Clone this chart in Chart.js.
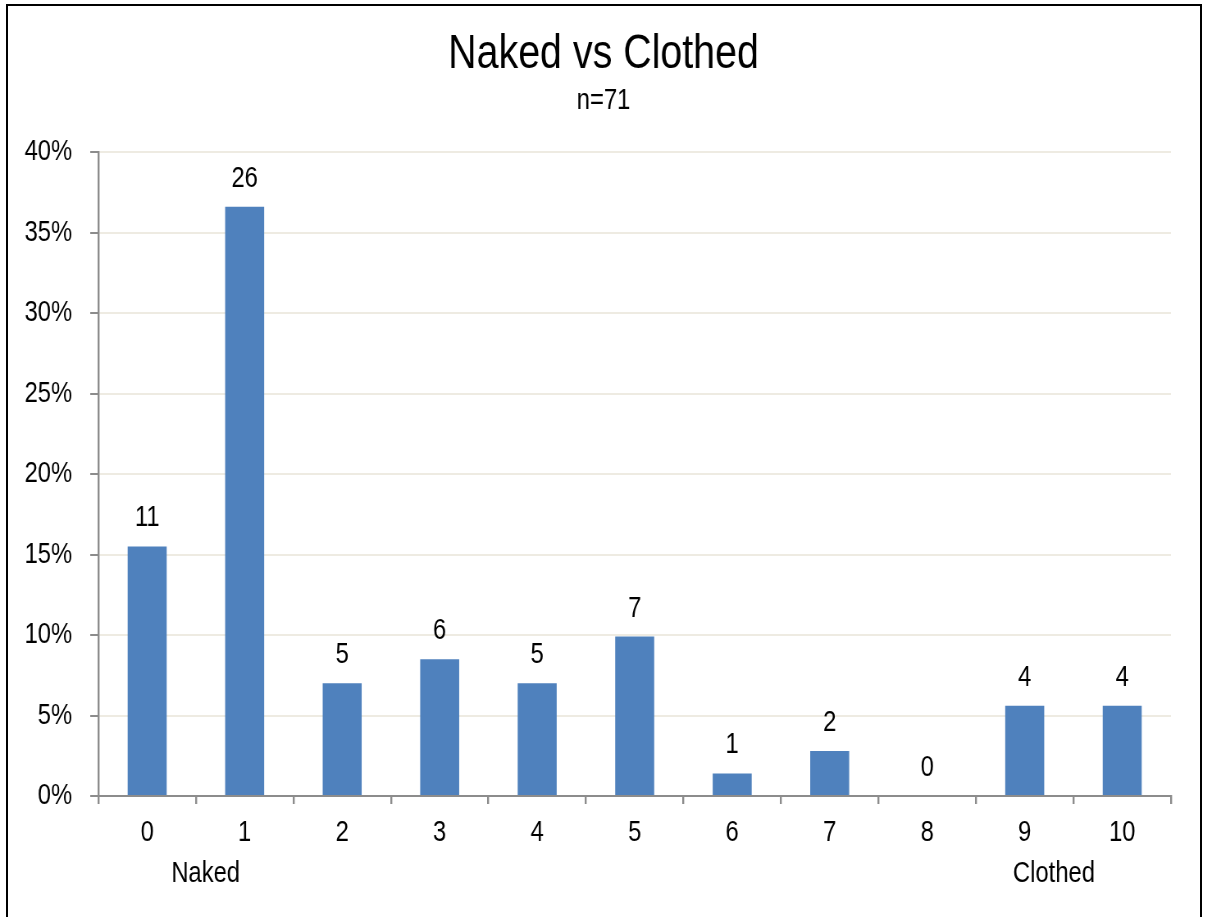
<!DOCTYPE html>
<html>
<head>
<meta charset="utf-8">
<script src="https://cdn.jsdelivr.net/npm/chart.js@4.4.0/dist/chart.umd.min.js"></script>
<style>
  html, body { margin: 0; padding: 0; background: #fff; overflow: hidden; }
  /* sem Arial Narrow instalada: desenha mais largo e comprime na horizontal */
  #wrap { position: absolute; left: 0; top: 0; width: 1472px; height: 917px; transform: scaleX(0.82); transform-origin: 0 0; }
  #frame { position: absolute; left: 6px; top: 4px; width: 1192px; height: 930px; border: 2px solid #000; pointer-events: none; }
</style>
</head>
<body>
<div id="wrap">
  <canvas id="grafico" width="1472" height="917"></canvas>
</div>
<div id="frame"></div>
<script>
// dados
const categorias = ['0', '1', '2', '3', '4', '5', '6', '7', '8', '9', '10'];
const percentuais = [15.5, 36.6, 7.0, 8.5, 7.0, 9.9, 1.4, 2.8, 0, 5.6, 5.6];
const contagens = [11, 26, 5, 6, 5, 7, 1, 2, 0, 4, 4];
const marcasY = [0, 5, 10, 15, 20, 25, 30, 35, 40];
const titulo = 'Naked vs Clothed';
const subtitulo = 'n=71';

const fonte = "'Liberation Sans', Arial, sans-serif";
const escala = 0.82;

// título centrado na moldura, rótulos de contagem e Naked/Clothed
const rotulos = {
    id: 'rotulos',
    afterDatasetsDraw(chart) {
        const ctx = chart.ctx;
        const meta = chart.getDatasetMeta(0);
        ctx.save();
        ctx.fillStyle = '#000';
        ctx.textAlign = 'center';
        ctx.textBaseline = 'middle';
        const meio = 603.5 / escala;
        ctx.font = '48px ' + fonte;
        ctx.fillText(titulo, meio, 55);
        ctx.font = '29px ' + fonte;
        ctx.fillText(subtitulo, meio, 101);
        meta.data.forEach((bar, i) => {
            ctx.fillText(String(contagens[i]), bar.x, bar.y - 28);
        });
        const x = chart.scales.x;
        ctx.fillText('Naked', x.getPixelForValue(0.6), 874);
        ctx.fillText('Clothed', x.getPixelForValue(9.3), 874);
        ctx.restore();
    }
};

const ctxGrafico = document.getElementById('grafico').getContext('2d');
const grafico = new Chart(ctxGrafico, {
    type: 'bar',
    data: {
        labels: categorias,
        datasets: [{
            data: percentuais,
            backgroundColor: '#4F81BD',
            borderWidth: 0,
            barPercentage: 0.4,
            categoryPercentage: 1.0
        }]
    },
    options: {
        responsive: false,
        animation: false,
        layout: {
            padding: { left: 10, right: 44, top: 152, bottom: 0 }
        },
        plugins: {
            legend: { display: false },
            tooltip: { enabled: false },
            title: { display: false },
            subtitle: { display: false }
        },
        scales: {
            x: {
                offset: true,
                grid: {
                    offset: true,
                    drawOnChartArea: false,
                    drawTicks: true,
                    tickLength: 8,
                    tickColor: '#8C8C8C',
                    lineWidth: 2.4
                },
                border: { color: '#8C8C8C', width: 2 },
                ticks: {
                    color: '#000',
                    padding: 12,
                    font: { family: fonte, size: 29 }
                },
                afterFit(s) { s.height = 121; }
            },
            y: {
                min: 0,
                max: 40,
                afterBuildTicks(s) { s.ticks = marcasY.map(v => ({ value: v })); },
                grid: {
                    color: '#EEEBE2',
                    lineWidth: 2,
                    tickLength: 10,
                    tickColor: '#8C8C8C'
                },
                border: { color: '#8C8C8C', width: 2.4 },
                ticks: {
                    color: '#000',
                    padding: 22,
                    font: { family: fonte, size: 29 },
                    callback: v => v + '%'
                },
                afterFit(s) { s.width = 110; }
            }
        }
    },
    plugins: [rotulos]
});
</script>
</body>
</html>
